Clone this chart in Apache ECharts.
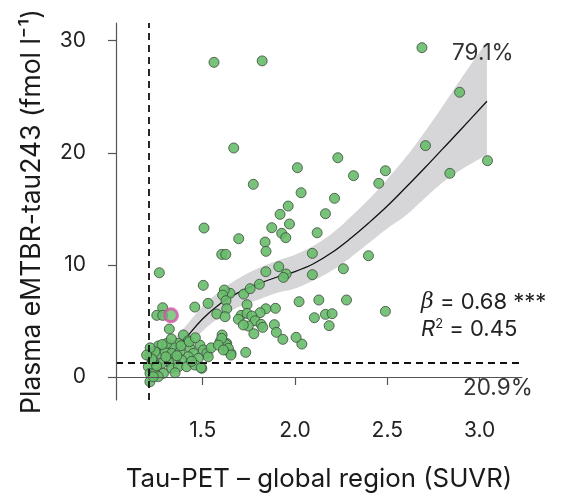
<!DOCTYPE html>
<html>
<head>
<meta charset="utf-8">
<script src="https://cdn.jsdelivr.net/npm/echarts@6/dist/echarts.min.js"></script>
<style>
html,body{margin:0;padding:0;background:#fff;}
#chart{width:564px;height:498px;}
</style>
</head>
<body>
<div id="chart"></div>
<script>
// ---- data ----
const xTicks = [1.5, 2.0, 2.5, 3.0];
const yTicks = [0, 10, 20, 30];
const cutX = 1.21;
const cutY = 1.31;

const pointsX = [
1.561,1.822,1.668,2.013,1.774,2.033,
2.688,2.892,2.707,3.043,2.839,2.232,2.317,2.490,2.454,2.214,
1.963,1.919,2.165,1.970,1.874,1.928,1.950,2.120,2.094,2.398,1.912,1.952,1.937,2.094,2.262,
1.894,2.022,2.129,2.279,2.490,2.105,2.165,2.201,2.185,2.037,2.006,
1.888,1.899,1.934,1.842,1.811,1.740,1.708,1.740,1.766,1.693,1.784,1.747,1.720,1.816,1.825,1.777,1.722,1.648,1.733,1.653,1.630,1.630,
1.507,1.695,1.838,1.843,1.603,1.625,1.265,1.842,1.503,1.617,1.608,1.757,1.807,1.626,1.630,1.576,1.529,1.457,1.283,1.251,1.283,1.319,1.605,1.594,1.626,1.639,1.621,
1.395,1.422,1.368,1.335,1.259,1.223,1.214,1.263,1.296,1.332,1.377,1.431,1.485,1.503,1.522,1.449,1.476,1.422,1.386,1.350,1.314,1.278,1.232,1.205,1.214,1.241,1.287,1.332,1.368,1.413,1.458,1.495,1.214,1.259,1.603,1.653,1.241,1.305,1.382,1.427,1.530,1.491,1.350,1.232,1.250,1.300,1.360,1.440,1.225,1.215,1.545,1.460,1.330,1.280,1.196,1.585,1.612
];
const pointsY = [
28.07,28.2,20.43,18.67,17.19,16.44,
29.38,25.40,20.64,19.30,18.17,19.56,17.96,18.40,17.28,15.94,
15.25,14.51,14.57,13.65,13.32,12.82,12.43,12.87,11.03,10.82,9.84,9.19,8.89,9.13,9.66,
6.13,6.72,6.87,6.87,5.86,5.29,5.59,5.65,4.58,2.94,3.54,
4.67,3.99,3.36,6.09,5.74,6.45,5.50,5.68,5.44,5.15,5.02,4.55,4.64,4.70,4.43,3.86,7.40,7.47,2.20,2.11,3.0,2.41,
13.29,12.34,12.04,11.21,10.94,10.94,9.30,9.39,8.18,7.76,7.31,7.88,8.27,6.81,6.09,5.62,6.57,6.24,6.18,5.50,5.50,4.28,3.75,3.15,2.91,2.56,5.38,
3.75,3.24,3.0,2.70,2.77,2.11,1.87,2.11,2.26,2.11,2.26,2.56,2.85,2.41,2.11,2.11,1.67,1.81,1.52,1.37,1.37,1.22,1.37,0.92,0.33,0.33,0.33,0.78,0.92,0.92,1.07,0.78,-0.42,0.03,3.45,1.96,2.26,3.0,2.79,3.15,1.81,0.83,0.38,0.03,1.0,1.8,1.9,1.4,1.6,2.6,2.6,3.5,3.4,2.9,1.96,2.85,2.41
];
const highlightX = [1.328];
const highlightY = [5.50];

const fitX    = [1.21, 1.30, 1.40, 1.50, 1.60, 1.70, 1.80, 1.90, 2.00, 2.10, 2.20, 2.30, 2.40, 2.50, 2.60, 2.70, 2.80, 2.90, 3.04];
const fitY    = [0.0,  1.5,  3.3,  5.2,  6.6,  7.6,  8.3,  8.9,  9.4,  10.1, 11.1, 12.35,13.75,15.25,16.9, 18.6, 20.35,22.1, 24.6];
const bandUp  = [0.8,  2.5,  4.4,  6.3,  7.75, 8.85, 9.7,  10.35,10.9, 11.7, 12.8, 14.25,15.85,17.65,19.6, 21.8, 24.15,26.6, 29.9];
const bandLow = [-0.7, 0.5,  2.3,  4.1,  5.4,  6.3,  6.9,  7.5,  7.9,  8.6,  9.5,  10.65,11.95,13.25,14.4, 15.9, 17.35,18.5, 19.8];

// ---- chart ----
const FONT = 'Inter';
const chart = echarts.init(document.getElementById('chart'), null, {renderer: 'canvas'});
const scatterData = pointsX.map((x, i) => [x, pointsY[i]]);
const option = {
  animation: false,
  backgroundColor: '#ffffff',
  grid: {left: 116, right: 42, top: 23, bottom: 98},
  xAxis: {
    type: 'value', min: 1.03, max: 3.23, z: 5,
    name: 'Tau-PET \u2013 global region (SUVR)',
    nameLocation: 'middle', nameGap: 66,
    nameTextStyle: {fontFamily: FONT, fontSize: 25.8, color: '#1a1a1a'},
    splitLine: {show: false},
    axisLine: {show: true, lineStyle: {color: '#555', width: 1.2}},
    axisTick: {show: true, length: 8, customValues: xTicks, lineStyle: {color: '#555', width: 1.2}},
    axisLabel: {customValues: xTicks, margin: 20, fontFamily: FONT, fontSize: 21, color: '#222',
      formatter: v => v.toFixed(1)}
  },
  yAxis: {
    type: 'value', min: -2.05, max: 31.58, z: 5,
    name: 'Plasma eMTBR-tau243 (fmol l\u207B\u00B9)',
    nameLocation: 'middle', nameGap: 70, nameRotate: 90,
    nameTextStyle: {fontFamily: FONT, fontSize: 26.5, color: '#1a1a1a'},
    splitLine: {show: false},
    axisLine: {show: true, lineStyle: {color: '#555', width: 1.2}},
    axisTick: {show: true, length: 8, customValues: yTicks, lineStyle: {color: '#555', width: 1.2}},
    axisLabel: {customValues: yTicks, margin: 30, fontFamily: FONT, fontSize: 21, color: '#222'}
  },
  series: [
    {
      type: 'line', smooth: 0.4, symbol: 'none', silent: true, z: 1,
      lineStyle: {opacity: 0},
      areaStyle: {color: '#d6d6d8', opacity: 1, origin: 'start'},
      data: fitX.map((x, i) => [x, bandUp[i]])
    },
    {
      type: 'line', smooth: 0.4, symbol: 'none', silent: true, z: 1,
      lineStyle: {opacity: 0},
      areaStyle: {color: '#ffffff', opacity: 1, origin: 'start'},
      data: fitX.map((x, i) => [x, bandLow[i]])
    },
    {
      type: 'line', smooth: 0.4, symbol: 'none', silent: true, z: 2,
      lineStyle: {color: '#111', width: 1.3},
      data: fitX.map((x, i) => [x, fitY[i]])
    },
    {
      type: 'scatter', z: 3, symbolSize: 10,
      itemStyle: {color: '#68bd6b', borderColor: '#3d4a3d', borderWidth: 0.9, opacity: 0.9},
      data: scatterData
    },
    {
      type: 'scatter', z: 4, symbolSize: 13,
      itemStyle: {color: '#68bd6b', borderColor: '#d552a6', borderWidth: 3},
      data: highlightX.map((x, i) => [x, highlightY[i]]),
      markLine: {
        silent: true, symbol: 'none', label: {show: false},
        lineStyle: {type: [7, 5], color: '#111', width: 1.8},
        data: [{xAxis: cutX}, {yAxis: cutY}]
      }
    }
  ],
  graphic: [
    {type: 'text', left: 452, top: 42, z: 20,
      style: {text: '79.1%', font: '22.5px ' + FONT, fill: '#333'}},
    {type: 'text', left: 463, top: 377, z: 20,
      style: {text: '20.9%', font: '22.5px ' + FONT, fill: '#333'}},
    {type: 'text', left: 421, top: 291, z: 20,
      style: {text: '{i|\u03B2} = 0.68 ***', font: '22px ' + FONT, fill: '#222',
        rich: {i: {fontStyle: 'italic', fontFamily: 'DejaVu Serif', fontSize: 22, fill: '#222'}}}},
    {type: 'text', left: 421, top: 318, z: 20,
      style: {text: '{i|R}{s|2} = 0.45', font: '22px ' + FONT, fill: '#222',
        rich: {i: {fontStyle: 'italic', fontFamily: FONT, fontSize: 22},
               s: {fontSize: 13, fontFamily: FONT, verticalAlign: 'top', padding: [0, 0, 10, 0]}}}}
  ]
};
chart.setOption(option);
</script>
</body>
</html>
